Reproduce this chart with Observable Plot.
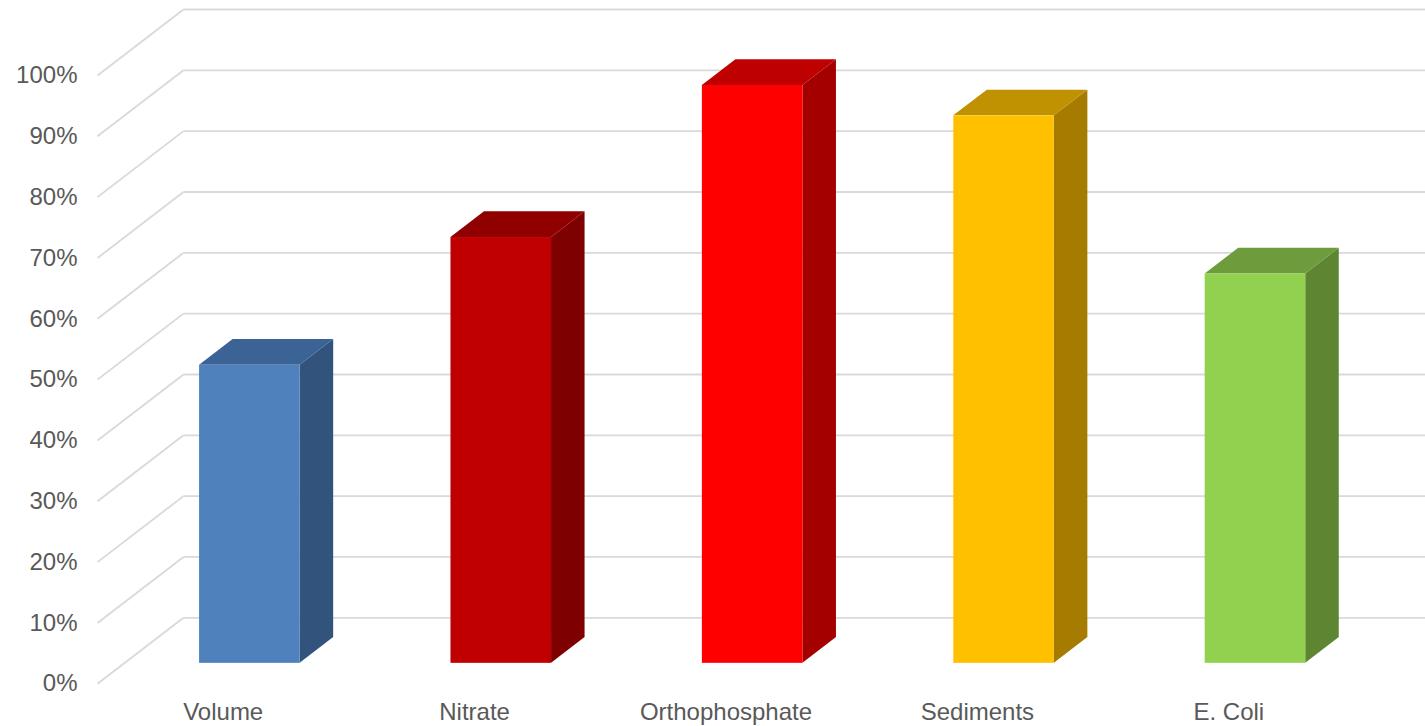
<!DOCTYPE html>
<html>
<head>
<meta charset="utf-8">
<script src="https://cdn.jsdelivr.net/npm/d3@7"></script>
<script src="https://cdn.jsdelivr.net/npm/@observablehq/plot@0.6"></script>
<style>
  html, body { margin: 0; padding: 0; background: #ffffff; overflow: hidden; }
  #chart svg { display: block; }
</style>
</head>
<body>
<div id="chart"></div>
<script>
// ---- data ----
const categories = ["Volume", "Nitrate", "Orthophosphate", "Sediments", "E. Coli"];
const values = [49, 70, 95, 90, 64];
const yTicks = [0, 10, 20, 30, 40, 50, 60, 70, 80, 90, 100];
const yTickLabels = ["0%", "10%", "20%", "30%", "40%", "50%", "60%", "70%", "80%", "90%", "100%"];

// ---- styles ----
const frontColors = ["#4f81bd", "#c00000", "#ff0000", "#ffc000", "#92d050"];
const sideColors  = ["#31537c", "#7f0000", "#a50000", "#a67c00", "#5e8532"];
const topColors   = ["#3b6395", "#900000", "#bf0000", "#c09100", "#6e9c3c"];
const textColor = "#595959";
const gridColor = "#d9d9d9";
const font = "'Liberation Sans', Arial, sans-serif";

// oblique 3-D projection: full floor depth shifts x by DX (category units) and y by DY (percent)
const DX = 0.342, DY = 10.85;
const d0 = 0.31, d1 = 0.70;   // bar front / back depth
const halfW = 0.2;            // half bar width (category units)

const bars = categories.map((c, i) => ({c, i, v: values[i]}));
const ticks = yTicks.map((t, k) => ({t, label: yTickLabels[k]}));

const marks = [];
// side-wall diagonals and back-wall gridlines
marks.push(Plot.link(ticks, {x1: -0.5, y1: d => d.t, x2: -0.5 + DX, y2: d => d.t + DY, stroke: gridColor, strokeWidth: 1.8}));
marks.push(Plot.link(ticks, {x1: -0.5 + DX, y1: d => d.t + DY, x2: 4.5 + DX, y2: d => d.t + DY, stroke: gridColor, strokeWidth: 1.8}));

// bars
bars.forEach(b => {
  const side = [
    {x: b.i + DX * d0 + halfW, y1: DY * d0, y2: b.v + DY * d0},
    {x: b.i + DX * d1 + halfW, y1: DY * d1, y2: b.v + DY * d1}
  ];
  const top = [
    {y: b.v + DY * d0, x1: b.i + DX * d0 - halfW, x2: b.i + DX * d0 + halfW},
    {y: b.v + DY * d1, x1: b.i + DX * d1 - halfW, x2: b.i + DX * d1 + halfW}
  ];
  marks.push(Plot.areaY(side, {x: "x", y1: "y1", y2: "y2", fill: sideColors[b.i], curve: "linear"}));
  marks.push(Plot.areaX(top, {y: "y", x1: "x1", x2: "x2", fill: topColors[b.i], curve: "linear"}));
  marks.push(Plot.rect([b], {
    x1: d => d.i + DX * d0 - halfW, x2: d => d.i + DX * d0 + halfW,
    y1: DY * d0, y2: d => d.v + DY * d0,
    fill: frontColors[b.i]
  }));
});

// y tick labels
marks.push(Plot.text(ticks, {x: -0.5, y: "t", text: "label", textAnchor: "end", dx: -20, fill: textColor, fontSize: 24, fontFamily: font}));
// category labels
marks.push(Plot.text(bars, {x: "i", y: 0, text: "c", dy: 29, fill: textColor, fontSize: 24, fontFamily: font}));

const chart = Plot.plot({
  width: 1425,
  height: 726,
  margin: 0,
  style: {background: "#ffffff", fontFamily: font},
  x: {type: "linear", domain: [-0.5, 4.5], range: [97, 1354], axis: null},
  y: {type: "linear", domain: [0, 100], range: [683.3, 75], axis: null},
  marks
});
document.getElementById("chart").appendChild(chart);
</script>
</body>
</html>
